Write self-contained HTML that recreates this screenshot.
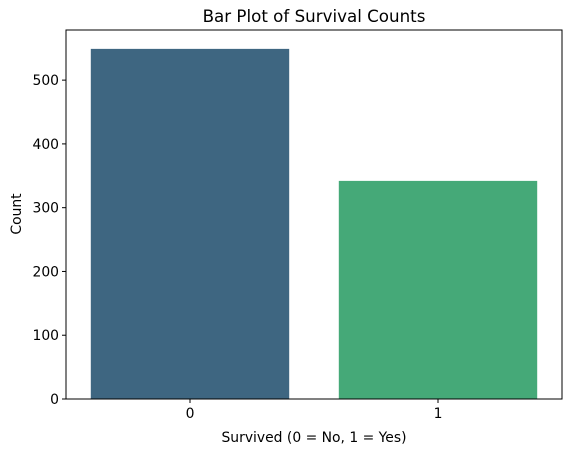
<!DOCTYPE html>
<html><head><meta charset="utf-8"><style>
html,body{margin:0;padding:0;background:#fff;}
svg text{font-family:"DejaVu Sans","Liberation Sans",sans-serif;fill:#000;}
</style></head><body>
<svg id="chart" width="571" height="453" xmlns="http://www.w3.org/2000/svg">
<rect width="571" height="453" fill="#fff"/>
<text x="314" y="22" font-size="16.7" text-anchor="middle">Bar Plot of Survival Counts</text>
<g id="bars"></g>
<g id="yticks"></g>
<g id="xticks"></g>
<rect x="66" y="30" width="496" height="369" fill="none" stroke="#000" stroke-width="1"/>
<text x="314" y="442" font-size="13.9" text-anchor="middle">Survived (0 = No, 1 = Yes)</text>
<text transform="translate(21,214) rotate(-90)" font-size="13.9" text-anchor="middle">Count</text>
</svg>
<script>
const categories = ["0","1"];
const counts = [549, 342];
const yTicks = [0,100,200,300,400,500];
const colors = ["#3e6681","#45a978"];
const NS="http://www.w3.org/2000/svg";
const L=66,R=562,T=30,B=399, yMax=578.6;
function y(v){return B-(v/yMax)*(B-T);}
function x(i){return L+(i+0.5)*(R-L)/categories.length;}
const bw=0.8*(R-L)/categories.length;
const gb=document.getElementById('bars'),gy=document.getElementById('yticks'),gx=document.getElementById('xticks');
counts.forEach((c,i)=>{
  const r=document.createElementNS(NS,'rect');
  r.setAttribute('x',x(i)-bw/2);r.setAttribute('y',y(c));
  r.setAttribute('width',bw);r.setAttribute('height',y(0)-y(c));
  r.setAttribute('fill',colors[i]);
  
  
  gb.appendChild(r);
});
yTicks.forEach(t=>{
  const l=document.createElementNS(NS,'line');
  l.setAttribute('x1',L-4);l.setAttribute('x2',L);l.setAttribute('y1',y(t));l.setAttribute('y2',y(t));l.setAttribute('stroke','#000');
  
  
  gy.appendChild(l);
  const tx=document.createElementNS(NS,'text');
  tx.setAttribute('x',L-7);tx.setAttribute('y',y(t)+5);tx.setAttribute('font-size','13.9');tx.setAttribute('text-anchor','end');
  tx.textContent=t;
  
  
  gy.appendChild(tx);
});
categories.forEach((c,i)=>{
  const l=document.createElementNS(NS,'line');
  l.setAttribute('x1',x(i));l.setAttribute('x2',x(i));l.setAttribute('y1',B);l.setAttribute('y2',B+4);l.setAttribute('stroke','#000');
  
  
  gx.appendChild(l);
  const tx=document.createElementNS(NS,'text');
  tx.setAttribute('x',x(i));tx.setAttribute('y',B+19);tx.setAttribute('font-size','13.9');tx.setAttribute('text-anchor','middle');
  tx.textContent=c;
  
  
  gx.appendChild(tx);
});
</script>
</body></html>
